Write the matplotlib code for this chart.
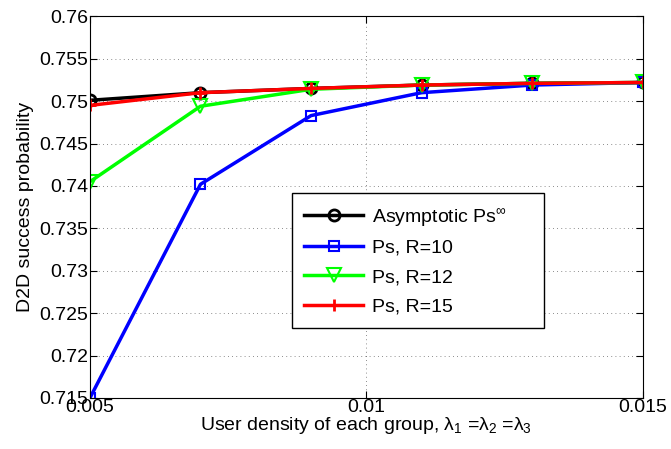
import numpy as np
import matplotlib; matplotlib.use("Agg"); import matplotlib.pyplot as plt
plt.rcParams.update({"font.family": "Liberation Sans", "font.size": 14, "mathtext.fontset": "custom",
                     "mathtext.rm": "Liberation Sans", "mathtext.it": "Liberation Sans"})

density = [0.005, 0.007, 0.009, 0.011, 0.013, 0.015]
asym = [0.7501, 0.7510, 0.7515, 0.7519, 0.7521, 0.7522]
r10  = [0.7150, 0.7402, 0.7483, 0.7510, 0.7519, 0.7522]
r12  = [0.7405, 0.7494, 0.7514, 0.7519, 0.7521, 0.7522]
r15  = [0.7495, 0.7510, 0.7515, 0.7519, 0.7521, 0.7522]

fig = plt.figure(figsize=(6.71, 4.49), dpi=100)
ax = fig.add_axes([0.134, 0.1136, 0.824, 0.85])
ax.plot(density, asym, "k-o", lw=2.5, ms=8, mfc="none", mew=2, label="Asymptotic Ps$^{\\infty}$")
ax.plot(density, r10, "b-s", lw=2.5, ms=7, mfc="none", mew=1.5, label="Ps, R=10")
ax.plot(density, r12, "-v", color="#00ff00", lw=2.5, ms=10, mfc="none", mew=1.5, label="Ps, R=12")
ax.plot(density, r15, "r-+", lw=2.5, ms=9, mew=2, label="Ps, R=15")

ax.set_xlim(0.005, 0.015); ax.set_ylim(0.715, 0.76)
ax.set_xticks([0.005, 0.01, 0.015]); ax.set_xticklabels(["0.005", "0.01", "0.015"])
ax.set_yticks(np.arange(0.715, 0.7601, 0.005))
ax.set_yticklabels(["0.715", "0.72", "0.725", "0.73", "0.735", "0.74", "0.745", "0.75", "0.755", "0.76"])
ax.grid(True, ls=(0, (1, 4)), color="k", lw=0.6, alpha=0.6)
ax.tick_params(direction="in", top=True, right=True, length=5, pad=1)
ax.set_xlabel("User density of each group, $\\lambda_1$ =$\\lambda_2$ =$\\lambda_3$", labelpad=-1)
ax.set_ylabel("D2D success probability", labelpad=4)
leg = ax.legend(loc="upper left", bbox_to_anchor=(0.365, 0.183, 0.456, 0.354), mode="expand",
                borderaxespad=0, fancybox=False, framealpha=1, edgecolor="k",
                handlelength=3.0, handletextpad=0.5, borderpad=0.65, labelspacing=0.6)
leg.get_frame().set_linewidth(1)
fig.savefig("out.png", dpi=100)
